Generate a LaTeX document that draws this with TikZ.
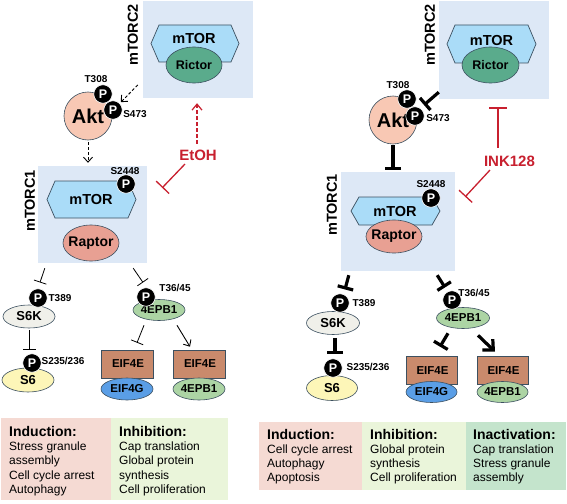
\documentclass[tikz,border=0pt]{standalone}
\usepackage{fontspec}
\setmainfont{Liberation Sans}
\usetikzlibrary{arrows.meta,calc,shapes.geometric}
\definecolor{boxblue}{HTML}{DDE8F6}
\definecolor{hexblue}{HTML}{AADCF8}
\definecolor{hexedge}{HTML}{3C5060}
\definecolor{rictorc}{HTML}{5AAB8C}
\definecolor{raptorc}{HTML}{E8A093}
\definecolor{aktc}{HTML}{F8C8B4}
\definecolor{s6kc}{HTML}{F0F0EA}
\definecolor{s6c}{HTML}{FDF6B8}
\definecolor{ebpc}{HTML}{ACD4A4}
\definecolor{eifec}{HTML}{C98A6C}
\definecolor{eifgc}{HTML}{5A9EE6}
\definecolor{pinkbox}{HTML}{F5DAD3}
\definecolor{lgreenbox}{HTML}{EAF5DA}
\definecolor{dgreenbox}{HTML}{C4E4CC}
\definecolor{drugred}{HTML}{C8202F}
\newcommand{\hexpath}[4]{\draw[hexs] (#1-#3,#2) -- (#1-#3+8,#2-#4) -- (#1+#3-8,#2-#4) -- (#1+#3,#2) -- (#1+#3-8,#2+#4) -- (#1-#3+8,#2+#4) -- cycle;}
\begin{document}
\begin{tikzpicture}[x=1pt,y=-1pt,
  cbox/.style={fill=boxblue, draw=none, inner sep=0},
  hexs/.style={fill=hexblue, draw=hexedge, line width=0.7},
  ell/.style={ellipse, draw=hexedge, line width=0.6, inner sep=0},
  lbl/.style={font=\fontsize{#1}{#1}\selectfont\bfseries, inner sep=0},
  lbl/.default=12,
  pp/.style={circle, fill=black, draw=white, line width=0.6, inner sep=0, minimum size=18.5, text=white, font=\fontsize{12.5}{12.5}\selectfont\bfseries},
  site/.style={font=\fontsize{10}{10}\selectfont\bfseries, inner sep=0},
  vlbl/.style={rotate=90, font=\fontsize{14.5}{14.5}\selectfont\bfseries, inner sep=0},
  eifrect/.style={rectangle, fill=eifec, draw=hexedge, line width=0.6, minimum width=52, minimum height=28, inner sep=0},
  inhL/.style={-{Bar[width=13pt]}, line width=0.8pt},
  arrL/.style={-{Straight Barb[length=5pt,width=9pt]}, line width=0.9pt},
  dasharr/.style={arrL, dash pattern=on 3pt off 2pt},
  reddash/.style={-{Straight Barb[length=6pt,width=10pt]}, line width=1.2pt, draw=drugred, dash pattern=on 3.5pt off 2.5pt},
  redinh/.style={-{Bar[width=18pt]}, line width=1.3pt, draw=drugred},
  inhR/.style={-{Bar[width=16pt]}, line width=3.2pt},
  arrR/.style={-{Straight Barb[length=8pt,width=15pt]}, line width=3.2pt},
  infobox/.style={rectangle, anchor=north west, inner sep=0, draw=none},
  infotext/.style={anchor=base west, align=left, inner sep=0, font=\fontsize{12}{14.3}\selectfont}
]
\useasboundingbox (0,0) rectangle (567,503);
\fill[white] (0,0) rectangle (567,503);

% ================= LEFT PANEL =================
\node[cbox, minimum width=110, minimum height=97] (c2L) at (198,49.5) {};
\hexpath{195}{43.5}{44}{18.5}
\node[lbl=14.5] (m2L) at (194,39) {mTOR};
\node[ell, fill=rictorc, minimum width=56, minimum height=36, label={[lbl=12.5]center:Rictor}] (ricL) at (194,65) {};
\node[vlbl] (t2L) at (133,35) {mTORC2};

\node[circle, fill=aktc, draw=hexedge, line width=0.6, minimum size=48, inner sep=0, label={[lbl=20]center:Akt}] (aktL) at (88,116) {};
\node[pp] (pT308L) at (103,94) {P};
\node[pp] (pS473L) at (113,110) {P};
\node[site] (sT308L) at (96,79) {T308};
\node[site] (sS473L) at (135,114) {S473};

\node[cbox, minimum width=109, minimum height=97] (c1L) at (92.5,214.5) {};
\hexpath{91.5}{199.5}{44.5}{18.5}
\node[lbl=14.5] (m1L) at (91,200) {mTOR};
\node[ell, fill=raptorc, minimum width=56, minimum height=36, label={[lbl=14]center:Raptor}] (rapL) at (91,243) {};
\node[vlbl] (t1L) at (30,201) {mTORC1};
\node[pp] (pS2448L) at (126,184) {P};
\node[site] (sS2448L) at (125,171) {S2448};

\node[lbl=15, text=drugred] (etohL) at (198,155.5) {EtOH};

\node[ell, fill=s6kc, minimum width=52, minimum height=23, label={[lbl=13]center:S6K}] (s6kL) at (29,316.5) {};
\node[pp] (pT389L) at (38,298) {P};
\node[site] (sT389L) at (60,298) {T389};
\node[ell, fill=s6c, minimum width=52, minimum height=24, label={[lbl=13]center:S6}] (s6L) at (28,380) {};
\node[pp] (pS6L) at (32,363) {P};
\node[site] (sS6L) at (63,361) {S235/236};

\node[ell, fill=ebpc, minimum width=52, minimum height=21, label={[lbl=11.5]center:4EPB1}] (ebpL) at (159,310) {};
\node[pp] (pT36L) at (146,297) {P};
\node[site] (sT36L) at (175,288) {T36/45};

\node[eifrect] (e4eL1) at (127,364) {};
\node[lbl=11.5] (e4eL1t) at (128,364) {EIF4E};
\node[ell, fill=eifgc, minimum width=52, minimum height=22, label={[lbl=11.5]center:EIF4G}] (e4gL) at (127,389) {};
\node[eifrect] (e4eL2) at (199,364) {};
\node[lbl=11.5] (e4eL2t) at (200,364) {EIF4E};
\node[ell, fill=ebpc, minimum width=52, minimum height=22, label={[lbl=11.5]center:4EPB1}] (ebp2L) at (199,389) {};

% left connectors
\draw[dasharr, shorten >=1.5pt] ($(c2L.west)+(-5,35.5)$) -- (pS473L);
\draw[dasharr, shorten <=2pt, shorten >=3pt] (aktL.south) -- (aktL.south |- c1L.north);
\draw[reddash, shorten <=6pt, shorten >=5pt] ($(etohL.north)+(-1,0)$) -- ($(c2L.south)+(-1,0)$);
\draw[redinh] ($(etohL.south)+(-13,3)$) -- ($(c1L.north east)+(15,22)$);
\draw[inhL] ($(c1L.south west)+(7,5)$) -- ($(pT389L.north)+(2,-6)$);
\draw[inhL, shorten <=2pt, shorten >=4pt] (s6kL.south) -- (s6kL.south |- pS6L.north);
\draw[inhL] ($(c1L.south east)+(-14,5)$) -- ($(pT36L.north)+(-3,-5)$);
\draw[inhL] ($(ebpL.south)+(-15,4.5)$) -- ($(e4eL1.north)+(10,-7)$);
\draw[arrL] ($(ebpL.south)+(18,4.5)$) -- ($(e4eL2.north)+(-9,-3)$);

% left info boxes
\node[infobox, fill=pinkbox, minimum width=110, minimum height=82] (indL) at (1,418) {};
\node[infobox, fill=lgreenbox, minimum width=117, minimum height=82] (inhbL) at (111,418) {};
\node[infotext] (indLt) at (9,493.5) {{\fontsize{14}{14.3}\selectfont\bfseries Induction:}\\Stress granule\\assembly\\Cell cycle arrest\\Autophagy};
\node[infotext] (inhLt) at (119,493.5) {{\fontsize{14}{14.3}\selectfont\bfseries Inhibition:}\\Cap translation\\Global protein\\synthesis\\Cell proliferation};

% ================= RIGHT PANEL =================
\node[cbox, minimum width=110, minimum height=98] (c2R) at (494,50) {};
\hexpath{491.5}{44}{44.5}{19}
\node[lbl=14.5] (m2R) at (491.5,41) {mTOR};
\node[ell, fill=rictorc, minimum width=57, minimum height=36, label={[lbl=12.5]center:Rictor}] (ricR) at (490.5,65) {};
\node[vlbl] (t2R) at (430,35) {mTORC2};

\node[circle, fill=aktc, draw=hexedge, line width=0.6, minimum size=48, inner sep=0, label={[lbl=20]center:Akt}] (aktR) at (393,120) {};
\node[pp] (pT308R) at (407,99) {P};
\node[pp] (pS473R) at (415,116) {P};
\node[site] (sT308R) at (398,85) {T308};
\node[site] (sS473R) at (438,118) {S473};

\node[cbox, minimum width=114, minimum height=99] (c1R) at (398,221.5) {};
\hexpath{395.5}{211}{44.5}{14}
\node[lbl=14.5] (m1R) at (395,212) {mTOR};
\node[ell, fill=raptorc, minimum width=56, minimum height=33, label={[lbl=14]center:Raptor}] (rapR) at (394,236.5) {};
\node[vlbl] (t1R) at (332,205) {mTORC1};
\node[pp] (pS2448R) at (431,198) {P};
\node[site] (sS2448R) at (431,184) {S2448};

\node[lbl=15, text=drugred] (inkR) at (509.5,161.5) {INK128};

\node[ell, fill=s6kc, minimum width=53, minimum height=23, label={[lbl=13]center:S6K}] (s6kR) at (333,323) {};
\node[pp] (pT389R) at (340,303) {P};
\node[site] (sT389R) at (364,303) {T389};
\node[ell, fill=s6c, minimum width=51, minimum height=25, label={[lbl=13]center:S6}] (s6R) at (332,388) {};
\node[pp] (pS6R) at (333,368) {P};
\node[site] (sS6R) at (368,367) {S235/236};

\node[ell, fill=ebpc, minimum width=53, minimum height=21, label={[lbl=11.5]center:4EPB1}] (ebpR) at (463,318) {};
\node[pp] (pT36R) at (452,300) {P};
\node[site] (sT36R) at (474,293) {T36/45};

\node[eifrect, minimum width=51] (e4eR1) at (431.5,370) {};
\node[lbl=11.5] (e4eR1t) at (432.5,371) {EIF4E};
\node[ell, fill=eifgc, minimum width=51, minimum height=21, label={[lbl=11.5]center:EIF4G}] (e4gR) at (431.5,392) {};
\node[eifrect, minimum width=51] (e4eR2) at (502.5,370) {};
\node[lbl=11.5] (e4eR2t) at (503.5,371) {EIF4E};
\node[ell, fill=ebpc, minimum width=51, minimum height=21, label={[lbl=11.5]center:4EPB1}] (ebp2R) at (502.5,392) {};

% right connectors
\draw[inhR] ($(c2R.south west)+(0,-7)$) -- ($(pS473R)+(9,-11)$);
\draw[inhR, shorten <=1pt, shorten >=2pt] (aktR.south) -- (aktR.south |- c1R.north);
\draw[redinh] ($(inkR.north)+(-11.5,-8)$) -- ($(c2R.south)+(4,8)$);
\draw[redinh] ($(inkR.south)+(-19.5,3)$) -- ($(c1R.north east)+(10,25)$);
\draw[inhR] ($(c1R.south west)+(8,4)$) -- ($(pT389R.north)+(5,-4)$);
\draw[inhR] ($(s6kR.south)+(2,3)$) -- ($(pS6R.north)+(2,-4)$);
\draw[inhR] ($(c1R.south east)+(-18,4)$) -- ($(pT36R.north)+(-7,-3)$);
\draw[inhR] ($(ebpR.south)+(-15,4.5)$) -- ($(e4eR1.north)+(8.5,-9)$);
\draw[arrR] ($(ebpR.south)+(15,6.5)$) -- ($(e4eR2.north)+(-7.5,-4)$);

% right info boxes
\node[infobox, fill=pinkbox, minimum width=103, minimum height=68] (indR) at (259,422) {};
\node[infobox, fill=lgreenbox, minimum width=104, minimum height=68] (inhbR) at (362,422) {};
\node[infobox, fill=dgreenbox, minimum width=100, minimum height=68] (inaR) at (466,422) {};
\node[infotext, font=\fontsize{12}{14}\selectfont] (indRt) at (267,481) {{\fontsize{14}{14}\selectfont\bfseries Induction:}\\Cell cycle arrest\\Autophagy\\Apoptosis};
\node[infotext, font=\fontsize{12}{14}\selectfont] (inhRt) at (370,481) {{\fontsize{14}{14}\selectfont\bfseries Inhibition:}\\Global protein\\synthesis\\Cell proliferation};
\node[infotext, font=\fontsize{12}{14}\selectfont] (inaRt) at (473,481) {{\fontsize{14}{14}\selectfont\bfseries Inactivation:}\\Cap translation\\Stress granule\\assembly};
\end{tikzpicture}
\end{document}
